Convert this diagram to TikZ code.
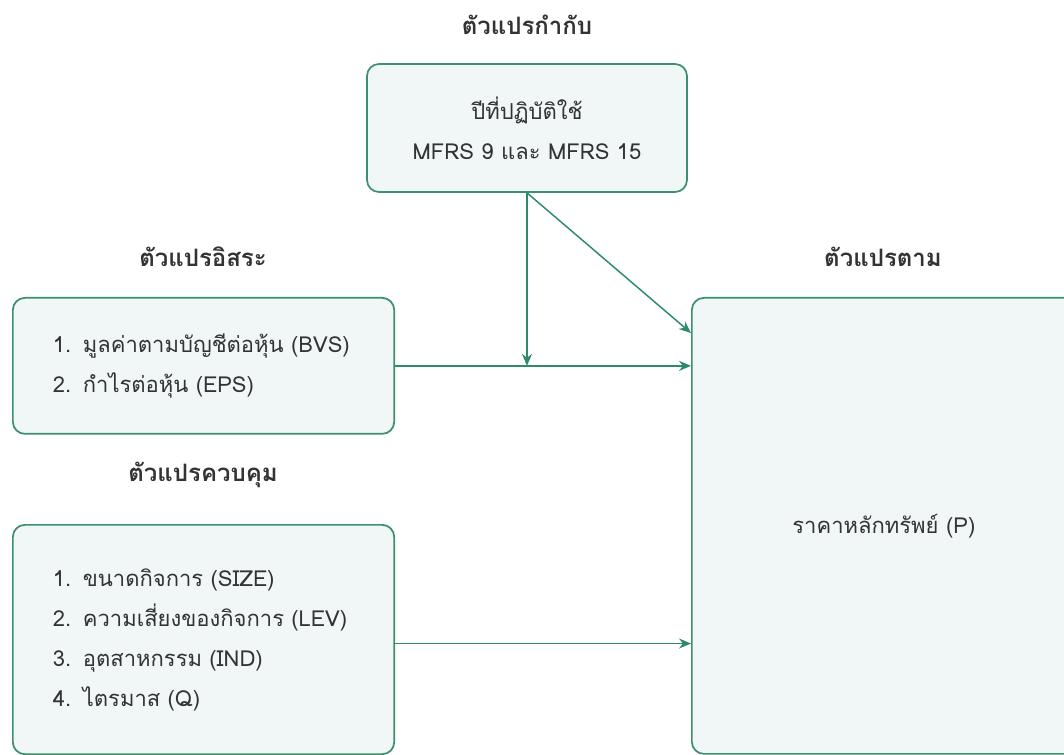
\documentclass[tikz,border=0pt]{standalone}
\usepackage{fontspec}
\setmainfont[Script=Thai]{Loma}
\usetikzlibrary{arrows.meta,positioning}
\definecolor{boxline}{HTML}{3E8E70}
\definecolor{boxfill}{HTML}{F1F7F7}
\definecolor{arrowline}{HTML}{2E8B67}
\definecolor{textgray}{HTML}{333333}
\newcommand{\itemno}[1]{\makebox[22.5pt][l]{#1}}

\begin{document}
\begin{tikzpicture}[
        x=0.75pt, y=-0.75pt,
        box/.style={rectangle,draw=boxline,fill=boxfill,line width=1.3pt,rounded corners=9pt,text=textgray,font=\fontsize{16.5}{30}\selectfont},
        listbox/.style={box,anchor=north west,align=left,inner xsep=30pt,text width=226pt},
        title/.style={font=\bfseries\fontsize{18}{22}\selectfont,text=textgray},
        arrow/.style={-{Stealth[length=9pt,width=7.5pt]},arrowline,line width=1.1pt}
    ]
        \useasboundingbox (0,0) rectangle (1064,755);
        \clip (0,0) rectangle (1064,755);

        % boxes
        \node[box, align=center, minimum width=240pt, minimum height=96pt] (mod) at (527,128)
            {ปีที่ปฏิบัติใช้\\MFRS 9 และ MFRS 15};
        \node[listbox, minimum height=102pt] (ind) at (12,297)
            {\itemno{1.}มูลค่าตามบัญชีต่อหุ้น (BVS)\\\itemno{2.}กำไรต่อหุ้น (EPS)};
        \node[listbox, minimum height=172pt] (ctl) at (12,524)
            {\itemno{1.}ขนาดกิจการ (SIZE)\\\itemno{2.}ความเสี่ยงของกิจการ (LEV)\\\itemno{3.}อุตสาหกรรม (IND)\\\itemno{4.}ไตรมาส (Q)};
        \node[box, anchor=north west, minimum width=288pt, minimum height=342pt] (dep) at (691,297)
            {ราคาหลักทรัพย์ (P)};

        % titles
        \node[title] (modtitle) at (527,25) {ตัวแปรกำกับ};
        \node[title] (indtitle) at (203,257) {ตัวแปรอิสระ};
        \node[title] (ctltitle) at (203,475) {ตัวแปรควบคุม};
        \node[title] (deptitle) at (883,257) {ตัวแปรตาม};

        % arrows
        \coordinate (hit) at ([yshift=-27pt]dep.north west);
        \draw[arrow] (ind.east) -- (ind.east -| dep.west);
        \draw[arrow] ([yshift=-3pt]ctl.east) -- ([yshift=-3pt]ctl.east -| dep.west);
        \draw[arrow] (mod.south) -- (mod.south |- ind.east);
        \draw[arrow] (mod.south) -- (hit);
    \end{tikzpicture}
\end{document}
